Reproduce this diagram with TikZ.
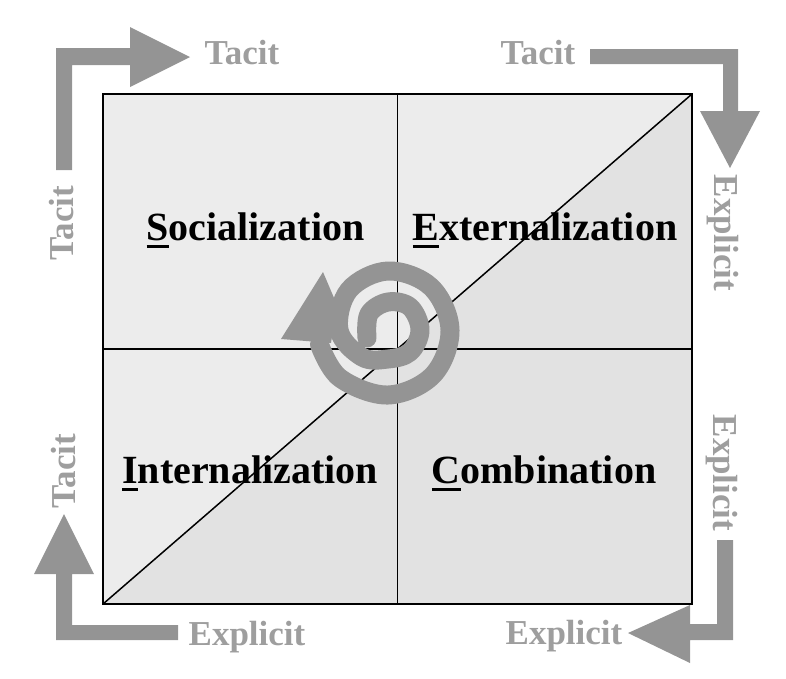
\documentclass[tikz,border=0pt]{standalone}
\usepackage{fontspec}
\setmainfont{Liberation Serif}
\definecolor{arrowgray}{RGB}{148,148,148}
\definecolor{labelgray}{RGB}{158,158,158}
\definecolor{lightfill}{RGB}{236,236,236}
\definecolor{darkfill}{RGB}{226,226,226}
\newcommand{\firstul}[1]{\setbox0=\hbox{#1}\rlap{\rule[-8pt]{\wd0}{2.6pt}}\box0}
\begin{document}
\begin{tikzpicture}[x=1pt,y=-1pt,
  quadlabel/.style={font=\fontsize{40}{48}\selectfont\bfseries, anchor=base, inner sep=0pt},
  sidelabel/.style={font=\fontsize{35}{42}\selectfont\bfseries, text=labelgray, inner sep=0pt},
  flowarrow/.style={fill=arrowgray, draw=none},
  gridline/.style={line width=1.5pt, black}]
\useasboundingbox (0,0) rectangle (786,678);
% frame corners
\coordinate (tl) at (103,94);
\coordinate (tr) at (692,94);
\coordinate (br) at (692,604);
\coordinate (bl) at (103,604);
\coordinate (mt) at (397.5,94);
\coordinate (mb) at (397.5,604);
\coordinate (ml) at (103,349);
\coordinate (mr) at (692,349);
\fill[lightfill] (tl) -- (tr) -- (bl) -- cycle;
\fill[darkfill] (tr) -- (br) -- (bl) -- cycle;
\draw[gridline] (mt) -- (mb);
\draw[gridline] (ml) -- (mr);
\draw[gridline] (bl) -- (tr);
\draw[line width=2pt] (tl) rectangle (br);
% spiral
\draw[arrowgray, line width=19pt, line cap=round, line join=round]
  plot[smooth, tension=0.6] coordinates {(367,338) (369,314) (388,302) (410,307) (420,330) (410,352) (388,359) (362,357) (339,330) (349,290) (388,271) (431,287) (450,330) (433,375) (388,395) (340,378) (319.5,344.6)};
\fill[arrowgray] (281,339) -- (323,272) -- (337,305) -- (331,343) -- cycle;
% corner arrows
\fill[flowarrow] (56,170) -- (56,48) -- (130,48) -- (130,27) -- (190,57) -- (130,87) -- (130,65) -- (72,65) -- (72,170) -- cycle;
\fill[flowarrow] (590,49) -- (738,49) -- (738,111) -- (760,111) -- (730,168) -- (700,111) -- (723,111) -- (723,64) -- (590,64) -- cycle;
\fill[flowarrow] (717,540) -- (733,540) -- (733,640) -- (690,640) -- (690,663) -- (628,633) -- (690,605) -- (690,624) -- (717,624) -- cycle;
\fill[flowarrow] (178,625) -- (178,640) -- (56,640) -- (56,574) -- (34,574) -- (64,514) -- (94,574) -- (72,574) -- (72,625) -- cycle;
% quadrant labels
\node[quadlabel] (soc) at (255.5,240) {\firstul{S}ocialization};
\node[quadlabel] (ext) at (545,240) {\firstul{E}xternalization};
\node[quadlabel] (int) at (250,483) {\firstul{I}nternalization};
\node[quadlabel] (com) at (544,483) {\firstul{C}ombination};
% side labels
\node[sidelabel] (tacTL) at (242,53) {Tacit};
\node[sidelabel, rotate=90] (tacL1) at (62,223) {Tacit};
\node[sidelabel] (tacTR) at (538,53) {Tacit};
\node[sidelabel, rotate=-90] (expR1) at (723,233) {Explicit};
\node[sidelabel, rotate=-90] (expR2) at (722,473) {Explicit};
\node[sidelabel] (expB2) at (564,636) {Explicit};
\node[sidelabel] (expB1) at (247,637) {Explicit};
\node[sidelabel, rotate=90] (tacL2) at (64,471) {Tacit};
\end{tikzpicture}
\end{document}
